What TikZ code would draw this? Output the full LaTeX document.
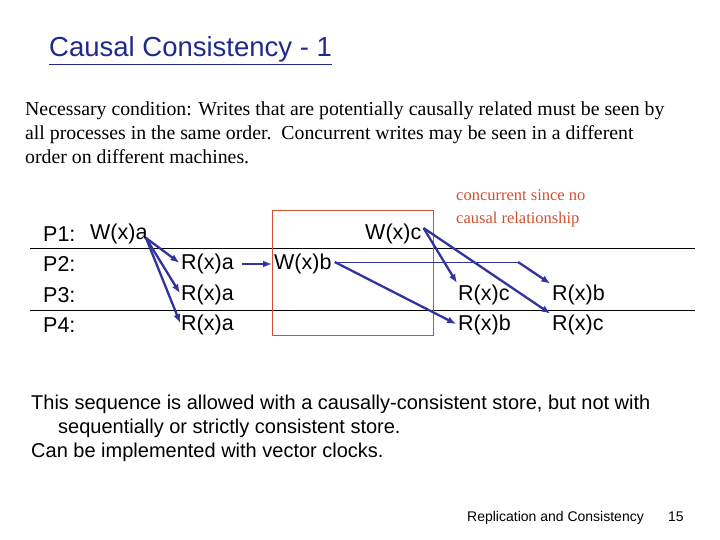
\documentclass[tikz,border=0pt]{standalone}
\usepackage{fontspec}
\setmainfont{Liberation Serif}
\newfontfamily\arial{Liberation Sans}
\usetikzlibrary{arrows.meta}
\definecolor{titleblue}{HTML}{1F2A8C}
\definecolor{arr}{HTML}{3333A0}
\definecolor{boxred}{HTML}{D05030}
\begin{document}
\begin{tikzpicture}[x=1pt,y=-1pt,
  lbl/.style={inner sep=0,anchor=west,font=\arial\fontsize{21.5}{24}\selectfont},
  conn/.style={draw=arr,line width=2.3pt,-{Latex[length=9pt,width=7pt]},shorten >=2pt},
  thin/.style={draw=arr,line width=1pt}]
\useasboundingbox (0,0) rectangle (720,540);
\node[anchor=base west,inner sep=0,text=titleblue,font=\arial\fontsize{27.5}{30}\selectfont] (title) at (49,57) {\underline{Causal Consistency - 1}};
\node[anchor=north west,inner sep=0,align=left,font=\fontsize{19.8}{24}\selectfont] (para) at (25,102)
 {Necessary condition: Writes that are potentially causally related must be seen by\\all processes in the same order.\ \ Concurrent writes may be seen in a different\\order on different machines.};
\node[anchor=north west,inner sep=0,align=left,text=boxred,font=\fontsize{16.5}{23}\selectfont] (conc) at (456,189) {concurrent since no\\causal relationship};
\draw (30,248) -- (695,248);
\draw (30,310) -- (695,310);
\draw[boxred,line width=0.8pt] (272,210) rectangle (433,335);
\node[lbl] (p1) at (43,234) {P1:};
\node[lbl] (p2) at (43,264) {P2:};
\node[lbl] (p3) at (43,295) {P3:};
\node[lbl] (p4) at (43,325) {P4:};
\node[lbl] (wa) at (90,234) {W(x)a};
\node[lbl] (ra2) at (181,264) {R(x)a};
\node[lbl] (ra3) at (181,295) {R(x)a};
\node[lbl] (ra4) at (181,325) {R(x)a};
\node[lbl] (wb) at (274,264) {W(x)b};
\node[lbl] (wc) at (365,234) {W(x)c};
\node[lbl] (rc3) at (458,295) {R(x)c};
\node[lbl] (rb4) at (458,325) {R(x)b};
\node[lbl] (rb3) at (552,295) {R(x)b};
\node[lbl] (rc4) at (552,325) {R(x)c};
\coordinate (wae) at (146,238);
\draw[conn] (wae) -- (ra2.west);
\draw[conn] (wae) -- (ra3.west);
\draw[conn] (wae) -- (ra4.west);
\draw[conn] (ra2.east) ++(8,0) -- (wb.west);
\draw[conn] (wb.east) ++(3,-2) -- (rb4.west);
\coordinate (bend) at (518,262);
\draw[thin] (wb.east) ++(3,-2) -- (bend);
\draw[conn] (bend) -- (rb3.north west);
\draw[conn] (wc.east) ++(2,-6) -- (rc3.north west);
\draw[conn] (wc.east) ++(2,-6) -- (rc4.north west);
\node[anchor=north west,inner sep=0,align=left,font=\arial\fontsize{20}{24}\selectfont] (bottom) at (31,395)
 {This sequence is allowed with a causally-consistent store, but not with\\\hspace*{27pt}sequentially or strictly consistent store.\\Can be implemented with vector clocks.};
\node[anchor=base west,inner sep=0,font=\arial\fontsize{14}{15}\selectfont] (foot) at (467,521) {Replication and Consistency};
\node[anchor=base west,inner sep=0,font=\arial\fontsize{14}{15}\selectfont] (num) at (668,521) {15};
\end{tikzpicture}
\end{document}
